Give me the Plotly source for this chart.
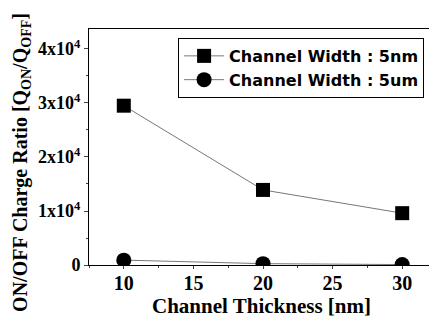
import plotly.graph_objects as go

thickness = [10, 20, 30]
ratio_5nm = [29500, 13900, 9600]
ratio_5um = [900, 250, 80]
ytick_vals = [0, 10000, 20000, 30000, 40000]
ytick_text = ["<b>0</b>", "<b>1x10<sup>4</sup></b>", "<b>2x10<sup>4</sup></b>",
              "<b>3x10<sup>4</sup></b>", "<b>4x10<sup>4</sup></b>"]
xtick_vals = [10, 15, 20, 25, 30]
xtick_text = ["<b>10</b>", "<b>15</b>", "<b>20</b>", "<b>25</b>", "<b>30</b>"]
x_title = "<b>Channel Thickness [nm]</b>"
y_title = "<b>ON/OFF Charge Ratio [Q<sub>ON</sub>/Q<sub>OFF</sub>]</b>"

fig = go.Figure()
fig.add_trace(go.Scatter(x=thickness, y=ratio_5nm, mode="lines+markers",
                         name="<b>Channel Width : 5nm</b>",
                         line=dict(color="#777777", width=1),
                         marker=dict(symbol="square", size=14, color="black")))
fig.add_trace(go.Scatter(x=thickness, y=ratio_5um, mode="lines+markers",
                         name="<b>Channel Width : 5um</b>",
                         line=dict(color="#777777", width=1),
                         marker=dict(symbol="circle", size=15, color="black")))

serif = "Liberation Serif"
fig.update_layout(
    width=429, height=317,
    margin=dict(l=81, r=0, t=21, b=60),
    plot_bgcolor="white", paper_bgcolor="white",
    showlegend=True,
    legend=dict(x=0.256, y=0.962, xanchor="left", yanchor="top",
                bordercolor="black", borderwidth=1, bgcolor="white",
                font=dict(family="DejaVu Sans", size=16, color="black"),
                tracegroupgap=0, itemwidth=40),
    xaxis=dict(range=[7.5, 32.5], tickvals=xtick_vals, ticktext=xtick_text,
               ticks="outside", ticklen=3,
               minor=dict(ticks="outside", ticklen=2, dtick=2.5, tick0=0),
               showline=True, linecolor="black", linewidth=1, mirror=True,
               showgrid=False, zeroline=False,
               tickfont=dict(family=serif, size=20, color="black")),
    yaxis=dict(range=[0, 43700], tickvals=ytick_vals, ticktext=ytick_text,
               ticks="outside", ticklen=4,
               minor=dict(ticks="outside", ticklen=2, dtick=5000, tick0=0),
               showline=True, linecolor="black", linewidth=1, mirror=True,
               showgrid=False, zeroline=False,
               tickfont=dict(family=serif, size=18, color="black")),
    annotations=[
        dict(text=x_title, xref="paper", yref="paper", x=0.497, y=-0.174,
             xanchor="center", yanchor="middle", showarrow=False,
             font=dict(family=serif, size=21, color="black")),
        dict(text=y_title, xref="paper", yref="paper", x=-0.196, y=0.436,
             xanchor="center", yanchor="middle", textangle=-90, showarrow=False,
             font=dict(family=serif, size=20, color="black")),
    ],
)
try:
    fig.update_xaxes(ticklabelstandoff=-3)
except Exception:
    pass

fig.write_html("out.html")
